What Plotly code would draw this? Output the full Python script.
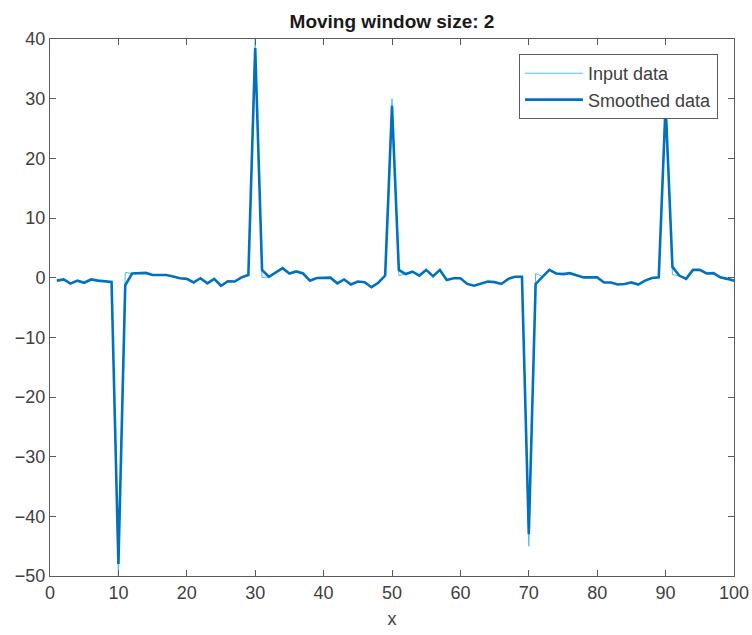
import plotly.graph_objects as go

x_vals = list(range(1, 101))

smoothed = [
    -0.5, -0.3, -1.0, -0.5, -0.85, -0.3, -0.5, -0.6, -0.7, -48.0,
    -1.3, 0.7, 0.7, 0.8, 0.45, 0.5, 0.45, 0.2, -0.1, -0.2,
    -0.8, -0.1, -0.95, -0.2, -1.35, -0.6, -0.65, 0.05, 0.45, 38.5,
    1.3, 0.15, 0.9, 1.6, 0.7, 1.05, 0.7, -0.5, -0.05, 0.0,
    0.0, -0.95, -0.3, -1.15, -0.65, -0.75, -1.6, -0.85, 0.35, 28.8,
    1.3, 0.6, 1.0, 0.35, 1.3, 0.25, 1.3, -0.4, -0.1, -0.1,
    -1.05, -1.35, -0.95, -0.65, -0.75, -1.05, -0.2, 0.15, 0.15, -43.0,
    -1.05, 0.2, 1.3, 0.7, 0.6, 0.75, 0.35, 0.05, 0.05, 0.05,
    -0.8, -0.8, -1.15, -1.05, -0.8, -1.15, -0.5, -0.05, 0.05, 29.0,
    1.8, 0.35, -0.2, 1.3, 1.3, 0.7, 0.75, 0.05, -0.2, -0.5,
]

input_data = [
    -0.5, -0.3, -1.0, -0.5, -0.85, -0.3, -0.5, -0.6, -0.7, -50.0,
    0.9, 0.7, 0.7, 0.8, 0.45, 0.5, 0.45, 0.2, -0.1, -0.2,
    -0.8, -0.1, -0.95, -0.2, -1.35, -0.6, -0.65, 0.05, 0.45, 40.0,
    0.0, 0.15, 0.9, 1.6, 0.7, 1.05, 0.7, -0.5, -0.05, 0.0,
    0.0, -0.95, -0.3, -1.15, -0.65, -0.75, -1.6, -0.85, 0.35, 30.0,
    0.35, 0.6, 1.0, 0.35, 1.3, 0.25, 1.3, -0.4, -0.1, -0.1,
    -1.05, -1.35, -0.95, -0.65, -0.75, -1.05, -0.2, 0.15, 0.15, -45.0,
    0.7, 0.2, 1.3, 0.7, 0.6, 0.75, 0.35, 0.05, 0.05, 0.05,
    -0.8, -0.8, -1.15, -1.05, -0.8, -1.15, -0.5, -0.05, 0.05, 30.5,
    0.5, 0.35, -0.2, 1.3, 1.3, 0.7, 0.75, 0.05, -0.2, -0.5,
]

x_ticks = list(range(0, 101, 10))
y_ticks = list(range(-50, 41, 10))

FONT = "Liberation Sans, Arial, sans-serif"
AX = "#5a5a5a"
TXT = "#404040"

fig = go.Figure()
fig.add_trace(go.Scatter(x=x_vals, y=input_data, mode="lines", name="Input data",
                         line=dict(color="#4DBEEE", width=1)))
fig.add_trace(go.Scatter(x=x_vals, y=smoothed, mode="lines", name="Smoothed data",
                         line=dict(color="#0072BD", width=2.6)))

axis_common = dict(showline=True, linecolor=AX, linewidth=1, mirror="ticks",
                   ticks="inside", ticklen=6, tickcolor=AX, showgrid=False,
                   zeroline=False, automargin=False,
                   tickfont=dict(family=FONT, size=18, color=TXT))

fig.update_layout(
    width=752, height=635,
    margin=dict(l=50, r=18, t=39, b=59),
    paper_bgcolor="white", plot_bgcolor="white",
    font=dict(family=FONT, color=TXT),
    title=dict(text="<b>Moving window size: 2</b>", x=0.5, xref="paper",
               y=1 - 21 / 635, yref="container", yanchor="middle",
               font=dict(family=FONT, size=19, color="#1a1a1a")),
    xaxis=dict(range=[0, 100], tickvals=x_ticks, title=dict(text="x", standoff=10,
               font=dict(family=FONT, size=18, color=TXT)), **axis_common),
    yaxis=dict(range=[-50, 40], tickvals=y_ticks, **axis_common),
    legend=dict(x=0.9766, y=0.972, xanchor="right", yanchor="top",
                bgcolor="white", bordercolor=AX, borderwidth=1,
                font=dict(family=FONT, size=18, color=TXT),
                tracegroupgap=0, itemwidth=58),
    showlegend=True,
)

fig.write_html("out.html")
